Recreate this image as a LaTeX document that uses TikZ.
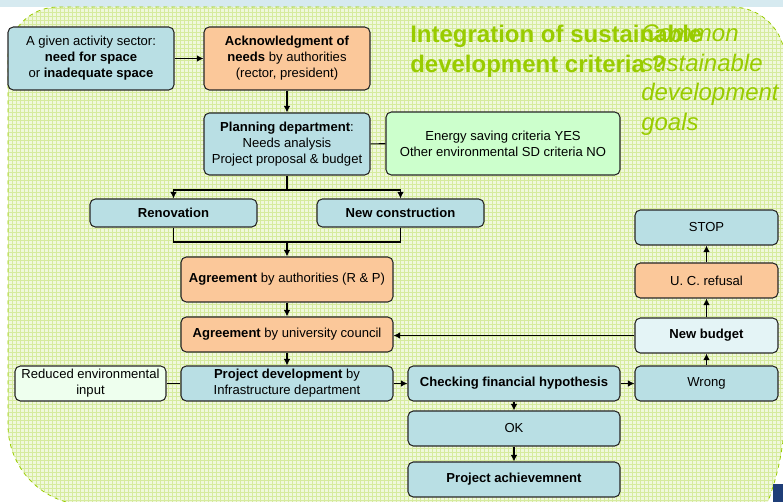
\documentclass[tikz,border=0pt]{standalone}
\usepackage{fontspec}
\setmainfont{Liberation Sans}
\usetikzlibrary{arrows.meta}

\definecolor{boxblue}{HTML}{B9DFE4}
\definecolor{boxorange}{HTML}{FBC89A}
\definecolor{boxgreen}{HTML}{CCFFCC}
\definecolor{boxpale}{HTML}{EEFFEE}
\definecolor{boxlight}{HTML}{E4F4F6}
\definecolor{sdgreen}{HTML}{99CC00}
\definecolor{meshfill}{HTML}{F0F8DC}
\definecolor{meshline}{HTML}{D6EB9E}
\definecolor{bandblue}{HTML}{D6EAF0}
\definecolor{logoblue}{HTML}{1F3E78}

\begin{document}
\begin{tikzpicture}[x=0.75pt, y=-0.75pt, >={Latex[length=5pt,width=5pt]},
  box/.style={draw=black!85, line width=0.8pt, rounded corners=4pt, align=center,
    inner sep=0pt, font=\fontsize{9.8}{12}\selectfont},
  bluebox/.style={box, fill=boxblue},
  orangebox/.style={box, fill=boxorange},
  greenbox/.style={box, fill=boxgreen},
  palebox/.style={box, fill=boxpale},
  lightbox/.style={box, fill=boxlight},
  big/.style={minimum width=124.5pt, minimum height=47.25pt},
  mid/.style={minimum width=159pt, minimum height=26.25pt},
  side/.style={minimum width=107.25pt, minimum height=26.25pt},
  flow/.style={line width=0.8pt}]
\useasboundingbox (0,0) rectangle (783,502);
\clip (0,0) rectangle (783,502);

% background
\fill[bandblue] (0,0) rectangle (783,7);
\begin{scope}
\path[clip] (8,57) arc[start angle=180, end angle=270, radius=50] -- (732,7)
  arc[start angle=270, end angle=360, radius=53] -- (785,408)
  arc[start angle=0, end angle=21.5, radius=265] -- (88,505)
  arc[start angle=90, end angle=180, radius=80] -- cycle;
\fill[meshfill] (0,0) rectangle (783,502);
\draw[meshline, line width=0.7pt] (0,504) grid[step=3pt] (784,0);
\end{scope}
\draw[sdgreen, dashed, line width=0.6pt] (8,57) arc[start angle=180, end angle=270, radius=50] -- (732,7)
  arc[start angle=270, end angle=360, radius=53] -- (785,408)
  arc[start angle=0, end angle=21.5, radius=265] -- (88,505)
  arc[start angle=90, end angle=180, radius=80] -- cycle;
\fill[logoblue] (773,484) rectangle (783,502);

% titles
\node[anchor=north west, inner sep=0pt, align=left, text=sdgreen,
  font=\fontsize{18}{22.5}\selectfont\bfseries] (title) at (410,24.5)
  {Integration of sustainable\\ development criteria ?};
\node[anchor=north west, inner sep=0pt, align=left, text=sdgreen,
  font=\fontsize{18}{22.3}\selectfont\itshape] (goals) at (641,24.5)
  {Common\\ sustainable\\ development\\ goals};

% boxes
\node[bluebox, big] (sector) at (91,58.5) {A given activity sector:\\ \textbf{need for space}\\ or \textbf{inadequate space}};
\node[orangebox, big] (ackn) at (287,58.5) {\textbf{Acknowledgment of}\\ \textbf{needs} by authorities\\ (rector, president)};
\node[bluebox, big, minimum height=46.5pt] (planning) at (287,144) {\textbf{Planning department}:\\ Needs analysis\\ Project proposal \& budget};
\node[greenbox, minimum width=175.5pt, minimum height=47.25pt] (criteria) at (503,143.5) {Energy saving criteria YES\\ Other environmental SD criteria NO};

\node[bluebox, minimum width=125.25pt, minimum height=21pt] (renov) at (173.5,213) {\textbf{Renovation}};
\node[bluebox, minimum width=125.25pt, minimum height=21pt] (newcons) at (400.5,213) {\textbf{New construction}};

\node[orangebox, mid, minimum height=33.75pt] (agreeauth) at (287,279.5) {\textbf{Agreement} by authorities (R \& P)};
\node[orangebox, mid] (agreeuc) at (287,334.5) {\textbf{Agreement} by university council};
\node[bluebox, mid] (projdev) at (287,383.5) {\textbf{Project development} by\\ Infrastructure department};
\node[palebox, minimum width=113.25pt, minimum height=26.25pt] (reduced) at (90.5,383.5) {Reduced environmental\\ input};
\node[bluebox, mid] (checking) at (514,383.5) {\textbf{Checking financial hypothesis}};
\node[bluebox, mid] (ok) at (514,428.5) {OK};
\node[bluebox, mid] (achieve) at (514,479.5) {\textbf{Project achievemnent}};

\node[bluebox, side] (wrong) at (706.5,383.5) {Wrong};
\node[lightbox, side] (newbudget) at (706.5,335.5) {\textbf{New budget}};
\node[orangebox, side] (refusal) at (706.5,280.5) {U. C. refusal};
\node[bluebox, side] (stop) at (706.5,227.5) {STOP};

\coordinate (split) at (287,190);
\coordinate (merge) at (287,242);

% connectors
\draw[flow, ->] (sector) -- (ackn);
\draw[flow, ->] (ackn) -- (planning);
\draw[flow] (planning) -- (criteria);
\draw[flow] (planning) -- (split);
\draw[flow, ->] (split) -| (renov);
\draw[flow, ->] (split) -| (newcons);
\draw[flow] (renov) |- (merge);
\draw[flow] (newcons) |- (merge);
\draw[flow, ->] (merge) -- (agreeauth);
\draw[flow, ->] (agreeauth) -- (agreeuc);
\draw[flow, ->] (agreeuc) -- (projdev);
\draw[flow] (reduced) -- (projdev);
\draw[flow, ->] (projdev) -- (checking);
\draw[flow, ->] (checking) -- (wrong);
\draw[flow, ->] (checking) -- (ok);
\draw[flow, ->] (ok) -- (achieve);
\draw[flow, ->] (wrong) -- (newbudget);
\draw[flow, ->] (newbudget.west) -- (agreeuc.east |- newbudget.west);
\draw[flow, ->] (newbudget) -- (refusal);
\draw[flow, ->] (refusal) -- (stop);

\end{tikzpicture}
\end{document}
